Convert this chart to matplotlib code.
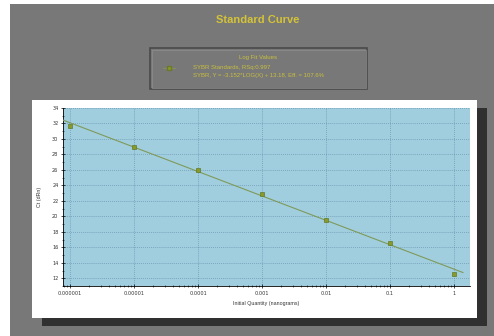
import numpy as np
import matplotlib
matplotlib.use("Agg")
import matplotlib.pyplot as plt
from matplotlib.patches import Rectangle
from matplotlib.lines import Line2D

# date citite din figura de referinta
cantitati = [1e-6, 1e-5, 1e-4, 1e-3, 1e-2, 1e-1, 1.0]
ct_valori = [31.65, 29.0, 26.0, 22.9, 19.5, 16.5, 12.6]
etichete_x = ["0.000001", "0.00001", "0.0001", "0.001", "0.01", "0.1", "1"]
ticks_y = [12, 14, 16, 18, 20, 22, 24, 26, 28, 30, 32, 34]
panta, intercept = -3.152, 13.18
titlu = "Standard Curve"
legenda_titlu = "Log Fit Values"
legenda_linii = ["SYBR Standards, RSq:0.997",
                 "SYBR, Y = -3.152*LOG(X) + 13.18, Eff. = 107.6%"]

W, H = 494, 336
GALBEN = "#d4c338"
GALBEN_LEG = "#c9bf3e"
GRI = "#787878"


def rect_px(x0, y0, x1, y1):
    """Dreptunghi in pixeli (origine sus-stanga) -> coordonate figura."""
    return (x0 / W, 1 - y1 / H), (x1 - x0) / W, (y1 - y0) / H


fig = plt.figure(figsize=(W / 100, H / 100), dpi=100)
fig.patch.set_facecolor("white")

for (x0, y0, x1, y1), fc, z in [
    ((10, 4, W, H), GRI, 0),
    ((42, 108, 487, 326), "#303030", 1),
    ((32, 100, 477, 318), "white", 2),
]:
    xy, w, h = rect_px(x0, y0, x1, y1)
    fig.patches.append(Rectangle(xy, w, h, transform=fig.transFigure,
                                 facecolor=fc, edgecolor="none", zorder=z))

# caseta legendei
xy, w, h = rect_px(150, 48, 367, 89)
fig.patches.append(Rectangle(xy, w, h, transform=fig.transFigure, facecolor="none",
                             edgecolor="#4a4a4a", linewidth=1.2, zorder=3))
xy, w, h = rect_px(151.5, 49.5, 365.5, 87.5)
fig.patches.append(Rectangle(xy, w, h, transform=fig.transFigure, facecolor="none",
                             edgecolor="#8e8e8e", linewidth=0.5, zorder=3))

fig.text(258 / W, 1 - 20 / H, titlu, ha="center", va="center", color=GALBEN,
         fontsize=8, fontweight="bold", family="Liberation Sans")
fig.text(258 / W, 1 - 57 / H, legenda_titlu, ha="center", va="center", color=GALBEN_LEG,
         fontsize=4.3, family="Liberation Sans")
for i, txt in enumerate(legenda_linii):
    fig.text(193 / W, 1 - (68 + 8 * i) / H, txt, ha="left", va="center", color=GALBEN_LEG,
             fontsize=4.3, family="Liberation Sans")
fig.lines.append(Line2D([163 / W, 175 / W], [1 - 68 / H] * 2, transform=fig.transFigure,
                        color="#8a9a4a", linewidth=0.5, zorder=4))
fig.lines.append(Line2D([169 / W], [1 - 68 / H], transform=fig.transFigure, marker="s",
                        markersize=2.5, color="#8a9a2a", markeredgecolor="#6a7a2a",
                        zorder=5))

# zona de plotare
ax_x0, ax_y0, ax_x1, ax_y1 = 63, 108, 470, 286
ax = fig.add_axes([ax_x0 / W, 1 - ax_y1 / H, (ax_x1 - ax_x0) / W, (ax_y1 - ax_y0) / H])
ax.set_zorder(5)
ax.set_facecolor("#a0cede")
ax.set_xscale("log")
ax.set_xlim(10 ** -6.11, 10 ** 0.25)
ax.set_ylim(11, 34)

xf = np.array([10 ** -6.11, 10 ** 0.14])
ax.plot(xf, panta * np.log10(xf) + intercept, color="#7f9a5a", linewidth=0.8, zorder=3)
ax.plot(cantitati, ct_valori, linestyle="none", marker="s", markersize=3,
        color="#8a9a2a", markeredgecolor="#5f7a2a", markeredgewidth=0.5, zorder=4)

ax.set_xticks(cantitati)
ax.set_xticklabels(etichete_x)
ax.set_yticks(ticks_y)
ax.set_yticks(np.arange(11, 35, 1), minor=True)
ax.tick_params(axis="both", which="major", labelsize=3.6, length=2.5, width=0.5,
               pad=2, direction="inout", colors="black", labelcolor="#333333")
ax.tick_params(axis="both", which="minor", length=1.5, width=0.4, direction="inout")
ax.tick_params(axis="x", which="minor", labelbottom=False)
ax.grid(True, which="major", color="#5a85a5", linestyle=(0, (1, 1.8)), linewidth=0.5)
for side in ["top", "right"]:
    ax.spines[side].set_visible(False)
for side in ["left", "bottom"]:
    ax.spines[side].set_linewidth(0.6)

ax.set_xlabel("Initial Quantity (nanograms)", fontsize=3.8, color="#333333", labelpad=4,
              family="Liberation Sans")
ax.set_ylabel("Ct (dRn)", fontsize=3.8, color="#333333", labelpad=7,
              family="Liberation Sans")

fig.savefig("out.png", dpi=100)
